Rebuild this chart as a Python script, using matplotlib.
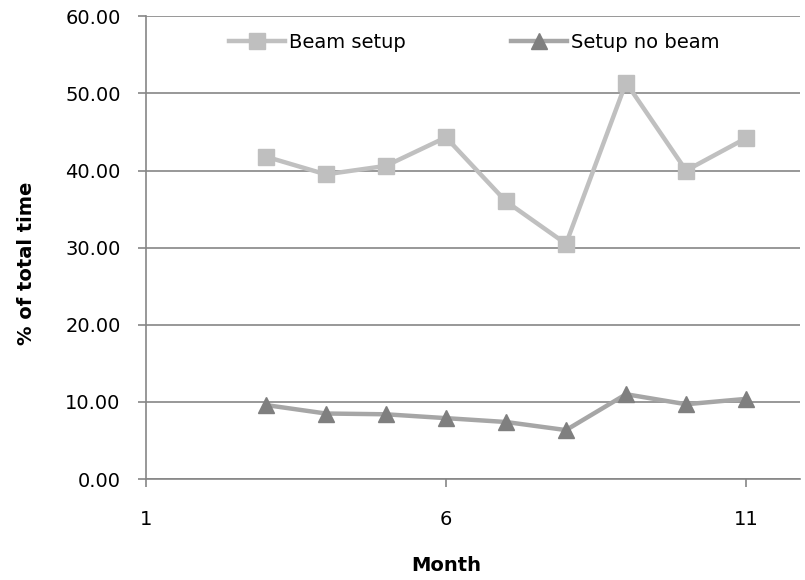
import matplotlib
matplotlib.use("Agg")
import matplotlib.pyplot as plt

months = [3, 4, 5, 6, 7, 8, 9, 10, 11]
beam_setup = [41.8, 39.5, 40.6, 44.3, 36.0, 30.5, 51.4, 40.0, 44.2]
setup_no_beam = [9.6, 8.5, 8.4, 7.9, 7.4, 6.35, 11.0, 9.7, 10.4]

plt.rcParams['font.family'] = ['DejaVu Sans']

fig = plt.figure(figsize=(8.05, 5.8), dpi=100)
ax = fig.add_axes([0.181, 0.174, 0.813, 0.798])

ax.plot(months, beam_setup, color='#C0C0C0', lw=3.2, marker='s', ms=11,
        mfc='#BFBFBF', mec='#BFBFBF', label='Beam setup', zorder=3)
ax.plot(months, setup_no_beam, color='#A6A6A6', lw=3.2, marker='^', ms=11,
        mfc='#7F7F7F', mec='#7F7F7F', label='Setup no beam', zorder=3)

ax.set_xlim(1, 11.9)
ax.set_ylim(0, 60)
ax.set_xticks([1, 6, 11])
ax.set_yticks(range(0, 61, 10))
ax.set_yticklabels([f"{v:.2f}" for v in range(0, 61, 10)])

ax.grid(axis='y', color='#868686', lw=1.2)
ax.set_axisbelow(True)
for s in ['top', 'right']:
    ax.spines[s].set_visible(False)
for s in ['left', 'bottom']:
    ax.spines[s].set_color('#868686')
    ax.spines[s].set_linewidth(1.2)
ax.tick_params(axis='both', colors='#868686', labelcolor='black', labelsize=14,
               length=6, width=1.2, direction='out')
ax.tick_params(axis='x', pad=16)
ax.tick_params(axis='y', pad=12)

ax.set_xlabel('Month', fontsize=14, fontweight='bold', labelpad=20)
ax.set_ylabel('% of total time', fontsize=14, fontweight='bold', labelpad=21)
ax.xaxis.label.set_x(0.459)
ax.yaxis.label.set_y(0.466)

ax.legend(loc='upper left', ncol=2, frameon=False, fontsize=14,
          bbox_to_anchor=(229 / 805, 1 - 33 / 580), bbox_transform=fig.transFigure,
          borderpad=0, borderaxespad=0, columnspacing=5.4, handlelength=2.9,
          handletextpad=0.2)

fig.savefig('out.png', dpi=100)
